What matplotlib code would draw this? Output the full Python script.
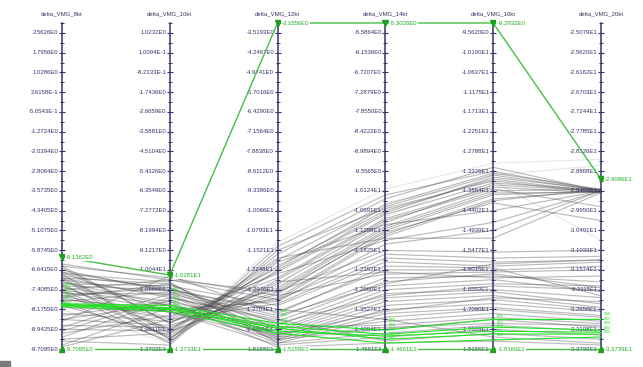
import numpy as np
import matplotlib.pyplot as plt
from matplotlib.patches import Rectangle

plt.rcParams['font.family'] = ['Liberation Sans', 'DejaVu Sans']

axis_names = ['delta_VMG_8kt', 'delta_VMG_10kt', 'delta_VMG_12kt',
              'delta_VMG_14kt', 'delta_VMG_16kt', 'delta_VMG_20kt']
# lowest and highest labelled tick of each axis
axis_min = [-9.7095, -13.733, -15.158, -14.661, -18.166, -33.739]
axis_top_tick = [2.5626, 1.0232, -3.5193, -5.5864, -9.562, -25.079]

# gray lines (one entry per record, same order on every axis)
vmg_8kt = [-6.79, -7.02, -7.26, -7.49, -6.56, -7.72, -7.41, -8.79, -9.10, -6.95,
           -7.87, -9.40, -8.33, -6.72, -8.02, -8.56, -7.18, -7.64, -8.94, -7.10,
           -8.18, -6.87, -7.79, -6.49,
           -7.41, -7.18, -6.72, -6.49, -7.56, -6.95, -7.33, -7.72, -6.64, -7.10,
           -7.49, -6.87, -7.95, -7.02, -8.56, -9.25, -9.56, -8.87, -6.79, -8.10,
           -9.02, -7.26, -6.41, -9.63, -8.64, -7.64, -9.33, -8.41, -6.95, -7.87, -7.41]
vmg_10kt = [-13.27, -12.99, -12.81, -13.46, -12.53, -12.35, -13.18, -12.72, -12.17, -12.90,
            -13.36, -13.55, -12.44, -12.07, -13.09, -12.63, -13.27, -12.26, -12.90, -11.98,
            -13.46, -12.81, -11.89, -12.53,
            -10.51, -10.78, -10.97, -10.41, -11.15, -11.33, -11.52, -10.69, -11.06, -11.70,
            -11.89, -10.87, -11.98, -11.24, -11.61, -11.43, -11.80, -11.15, -10.60, -11.98,
            -11.33, -10.97, -10.51, -12.35, -10.32, -10.87, -12.99, -11.52, -10.69, -11.06, -11.70]
vmg_12kt = [-11.67, -11.89, -12.10, -11.38, -12.32, -12.54, -12.76, -12.90, -12.98, -13.12,
            -12.25, -11.52, -13.27, -13.34, -12.61, -13.05, -11.96, -12.39, -11.81, -13.19,
            -11.23, -12.83, -13.41, -12.18,
            -13.34, -13.56, -13.78, -13.19, -14.00, -14.14, -14.29, -14.43, -14.50, -14.58,
            -14.65, -14.72, -14.79, -14.87, -14.94, -14.58, -14.36, -14.79, -14.94, -15.01,
            -14.07, -13.70, -13.05, -13.49, -13.85, -14.21, -12.69, -15.09, -14.65, -13.92, -14.72]
vmg_14kt = [-10.35, -10.52, -10.69, -10.24, -10.80, -10.92, -11.03, -11.14, -11.20, -11.26,
            -10.75, -10.63, -11.37, -11.43, -10.97, -11.31, -11.09, -11.54, -11.48, -10.86,
            -10.07, -10.46, -11.65, -10.58,
            -11.94, -12.16, -12.39, -12.51, -12.62, -12.73, -12.85, -12.96, -13.07, -13.19,
            -13.30, -13.41, -13.53, -13.64, -13.75, -13.87, -13.98, -14.09, -14.21, -14.32,
            -14.43, -13.81, -11.83, -12.05, -12.28, -13.13, -12.45, -14.49, -13.58, -12.79, -14.04]
vmg_16kt = [-13.22, -13.38, -13.54, -13.33, -13.65, -13.76, -13.70, -13.86, -13.92, -13.97,
            -13.49, -13.59, -14.08, -14.13, -13.81, -14.19, -14.40, -14.72, -15.15, -13.43,
            -13.11, -13.59, -14.94, -13.43,
            -15.69, -15.91, -16.02, -16.07, -16.18, -16.12, -16.28, -16.39, -16.55, -16.61,
            -16.71, -16.82, -16.93, -17.04, -17.09, -17.20, -17.31, -17.36, -17.52, -17.63,
            -17.74, -17.84, -15.53, -15.80, -15.96, -16.45, -16.23, -17.95, -16.77, -15.85, -17.47]
vmg_20kt = [-29.41, -29.36, -29.44, -29.41, -29.38, -29.46, -29.41, -29.36, -29.44, -29.41,
            -29.38, -29.46, -29.41, -29.36, -29.84, -30.22, -29.41, -29.41, -29.46, -28.71,
            -28.54, -30.76, -29.41, -29.41,
            -31.20, -31.36, -31.47, -31.57, -31.90, -32.06, -32.17, -32.01, -32.33, -32.50,
            -32.60, -32.66, -32.71, -32.82, -32.87, -32.98, -33.04, -33.14, -33.25, -33.36,
            -33.47, -33.58, -31.03, -31.30, -32.28, -32.12, -31.74, -33.63, -32.44, -31.30, -33.09]
faint_records = [19, 20, 21]

# highlighted (selected) records
sel_ids = ['846', '841', '842', '843', '833']
sel_8kt = [-7.95, -7.98, -8.02, -8.06, -8.02]
sel_10kt = [-11.70, -11.80, -11.89, -11.98, -11.84]
sel_12kt = [-14.21, -14.32, -14.39, -14.58, -14.50]
sel_14kt = [-14.12, -14.24, -14.38, -14.49, -14.29]
sel_16kt = [-17.36, -17.57, -17.76, -17.92, -17.68]
sel_20kt = [-32.93, -33.22, -33.33, -33.41, -33.28]

# filter handles
filter_hi = [-6.1362, -10.281, -3.1556, -5.3026, -9.2932, -29.086]
filter_lo = [-9.7095, -13.733, -15.158, -14.661, -18.166, -33.739]

navy = '#34346e'
green_f = '#45c045'
green_s = '#22e022'


def fmt(v):
    m, e = f"{v:.4E}".split('E')
    return f"{m}E{int(e)}"


def norm(v, i):
    step = (axis_top_tick[i] - axis_min[i]) / 16
    return (np.asarray(v) - axis_min[i]) / (16.5 * step)


fig = plt.figure(figsize=(6.43, 3.67), dpi=100)
ax = fig.add_axes([0, 0, 1, 1])
ax.axis('off')
ax.set_xlim(-0.575, 5.39)
ax.set_ylim(-0.0552, 1.0706)
px = 1 / 326  # one pixel in normalised axis units

xs = np.arange(6)
data = [vmg_8kt, vmg_10kt, vmg_12kt, vmg_14kt, vmg_16kt, vmg_20kt]
sel = [sel_8kt, sel_10kt, sel_12kt, sel_14kt, sel_16kt, sel_20kt]

Y = np.array([norm(d, i) for i, d in enumerate(data)])
for r in range(Y.shape[1]):
    a = 0.12 if r in faint_records else 0.37
    ax.plot(xs, Y[:, r], color='#484848', alpha=a, lw=0.85, zorder=2)

# axes, ticks and labels
for i in range(6):
    ticks = np.linspace(axis_min[i], axis_top_tick[i], 17)
    step = ticks[1] - ticks[0]
    ax.plot([i, i], [0, 1], color=navy, lw=1.1, zorder=3)
    ax.plot(np.full(17, i), norm(ticks, i), ls='none', marker='_', ms=4,
            mew=0.8, color=navy, zorder=3)
    ax.plot(np.full(17, i), norm(ticks + step / 2, i), ls='none', marker='_',
            ms=3, mew=0.7, color=navy, zorder=3)
    for t in ticks:
        ax.annotate(fmt(t), (i, norm(t, i)), xytext=(-2.5, 0),
                    textcoords='offset points', ha='right', va='center',
                    fontsize=4.3, color=navy, zorder=2.5)
    ax.text(i, 1.028, axis_names[i], ha='center', va='center', fontsize=4.3,
            color=navy)

# filter polylines
hi = [norm(v, i) for i, v in enumerate(filter_hi)]
lo = [norm(v, i) for i, v in enumerate(filter_lo)]
ax.plot(xs, hi, color=green_f, lw=1.0, zorder=4)
ax.plot(xs, lo, color=green_f, lw=1.0, zorder=4)
ax.plot(xs, hi, ls='none', marker='v', ms=5, color='#1f9f1f', zorder=6)
ax.plot(xs, lo, ls='none', marker='^', ms=5, color='#1f9f1f', zorder=6)
for i in range(6):
    for v, yy in ((filter_hi[i], hi[i]), (filter_lo[i], lo[i])):
        ax.annotate(fmt(v), (i, yy), xytext=(3, -0.5), textcoords='offset points',
                    ha='left', va='center', fontsize=4.3, color='#22b022',
                    zorder=7, bbox=dict(boxstyle='square,pad=0.15', fc='white',
                                        ec='none'))

# selected records
S = np.array([norm(d, i) for i, d in enumerate(sel)])
for r in range(S.shape[1]):
    ax.plot(xs, S[:, r], color=green_s, lw=0.8, zorder=5)
for i in range(6):
    # stack the record labels upwards so they stay readable
    order = np.argsort(S[i])
    ylab = S[i, order[0]] + 5 * px
    for k, r in enumerate(order):
        if k:
            ylab = max(S[i, r] + 3 * px, ylab + 4.4 * px)
        ax.text(i + 0.03, ylab, sel_ids[r], ha='left', va='center',
                fontsize=3.1, color=green_s, zorder=6)

fig.patches.append(Rectangle((0, 0), 10 / 643, 6 / 367, transform=fig.transFigure,
                             color='#7a7a7a'))

fig.savefig('out.png', dpi=100)
